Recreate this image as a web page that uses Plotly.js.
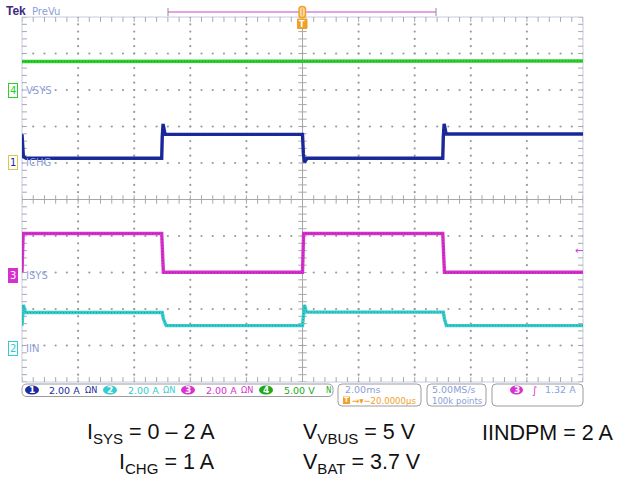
<!DOCTYPE html>
<html><head><meta charset="utf-8">
<script src="https://cdn.plot.ly/plotly-3.0.1.min.js"></script>
<style>html,body{margin:0;padding:0;background:#fff;}#chart{width:618px;height:478px;}</style>
</head><body><div id="chart"></div>
<script>
// ---------- DATA (time in ms, values in channel units) ----------
const timeVSYS = [-10, -5.0, -4.98, 0.0, 0.02, 5.02, 5.04, 10];
const valVSYS  = [4.00, 4.00, 4.04, 4.04, 4.03, 4.03, 4.08, 4.08];

const timeICHG = [-10, -9.98, -9.95, -9.85, -5.02, -5.0, -4.97, -4.9, 0.0, 0.03, 0.07, 0.16, 5.0, 5.02, 5.05, 5.12, 10];
const valICHG  = [1.53, 0.9, 0.3, 0.22, 0.22, 1.4, 2.1, 1.53, 1.53, 0.5, 0.0, 0.22, 0.22, 1.4, 2.1, 1.55, 1.55];

const timeISYS = [-10, -9.98, -9.96, -5.02, -4.99, -4.96, 0.0, 0.02, 0.04, 5.0, 5.03, 5.06, 10];
const valISYS  = [0.15, 1.5, 2.28, 2.28, 0.8, 0.15, 0.15, 1.5, 2.28, 2.28, 0.8, 0.15, 0.15];

const timeIIN = [-10, -9.98, -9.95, -9.88, -5.0, -4.96, -4.92, -4.86, 0.0, 0.04, 0.07, 0.14, 5.02, 5.06, 5.09, 5.13, 10];
const valIIN  = [1.25, 2.0, 2.38, 1.97, 1.97, 1.62, 1.45, 1.25, 1.25, 1.9, 2.38, 1.99, 1.99, 1.62, 1.45, 1.25, 1.25];

const channelNames = ['VSYS', 'ICHG', 'ISYS', 'IIN'];
const channelNumbers = ['4', '1', '3', '2'];
const scaleLabels = ['2.00 A', '2.00 A', '2.00 A', '5.00 V'];   // ch1..ch4
const timebaseLabel = '2.00ms';
const delayLabel = '\u221220.0000µs';
const sampleLabel = '5.00MS/s';
const pointsLabel = '100k points';
const trigLevel = 1.32;       // A, on channel 3
const trigLabel = '1.32 A';
const notes = [
  'I<sub>SYS</sub> = 0 – 2 A', 'I<sub>CHG</sub> = 1 A',
  'V<sub>VBUS</sub> = 5 V', 'V<sub>BAT</sub> = 3.7 V', 'IINDPM = 2 A'
];

// ---------- STYLE / LAYOUT ----------
const L = 22, R = 583, T = 17, B = 382;
const px = x => (x - L) / (R - L);
const py = y => (B - y) / (B - T);

const col = {
  c1: '#1b2a9c', c1d: '#0a1260',
  c2: '#34cccc', c2d: '#1a6464',
  c3: '#d630cf', c3d: '#6a1868',
  c4: '#2ccf2c', c4d: '#1a681a',
  lab: '#8c9ed8', grid: '#a8a8a8', dot: '#9a9a9a', orange: '#f0a028'
};
// axis: [scale per div, ground position in divisions from bottom]
const axCfg = {
  y2: [2, 6.02],   // ch1 ICHG
  y3: [2, 0.92],   // ch2 IIN
  y4: [2, 2.93],   // ch3 ISYS
  y5: [5, 7.98]    // ch4 VSYS
};

const traces = [];
// graticule: dotted grid + rulers
const minorX = [], minorY = [];
for (let i = 0; i <= 50; i++) minorX.push(-10 + i * 0.4);
for (let i = 0; i <= 50; i++) minorY.push(i * 0.2);
const dotX = [], dotY = [];
for (let gx = -8; gx <= 8; gx += 2) { if (gx === 0) continue; minorY.forEach(v => { dotX.push(gx); dotY.push(v); }); }
for (let gy = 1; gy <= 9; gy++) { if (gy === 5) continue; minorX.forEach(v => { dotX.push(v); dotY.push(gy); }); }
traces.push({x: dotX, y: dotY, type: 'scatter', mode: 'markers', marker: {symbol: 'circle', size: 2.2, color: col.dot, line: {width: 0}}, hoverinfo: 'skip'});
const tickStyle = (sym, size) => ({symbol: sym, size: size, color: col.grid, line: {width: 1, color: col.grid}});
traces.push({x: minorX, y: minorX.map(() => 5), mode: 'markers', marker: tickStyle('line-ns-open', 6), hoverinfo: 'skip'});
traces.push({x: minorY.map(() => 0), y: minorY, mode: 'markers', marker: tickStyle('line-ew-open', 6), hoverinfo: 'skip'});
traces.push({x: minorX, y: minorX.map(() => 10), mode: 'markers', marker: tickStyle('line-ns-open', 7), hoverinfo: 'skip'});
traces.push({x: minorX, y: minorX.map(() => 0), mode: 'markers', marker: tickStyle('line-ns-open', 7), hoverinfo: 'skip'});
traces.push({x: minorY.map(() => -10), y: minorY, mode: 'markers', marker: tickStyle('line-ew-open', 7), hoverinfo: 'skip'});
traces.push({x: minorY.map(() => 10), y: minorY, mode: 'markers', marker: tickStyle('line-ew-open', 7), hoverinfo: 'skip'});

function addCh(t, v, yax, c, d) {
  traces.push({x: t, y: v, yaxis: yax, mode: 'lines', line: {color: c, width: 3.4}, hoverinfo: 'skip'});
  traces.push({x: t, y: v, yaxis: yax, mode: 'lines', line: {color: d, width: 1, dash: '1px,2px'}, opacity: 0.55, hoverinfo: 'skip'});
}
addCh(timeVSYS, valVSYS, 'y5', col.c4, col.c4d);
addCh(timeICHG, valICHG, 'y2', col.c1, col.c1d);
addCh(timeISYS, valISYS, 'y4', col.c3, col.c3d);
addCh(timeIIN, valIIN, 'y3', col.c2, col.c2d);

const shapes = [];
const ann = [];
const F = '"DejaVu Sans", sans-serif';
const FC = '"DejaVu Sans Condensed", "DejaVu Sans", sans-serif';
function txt(x, y, text, color, size, anchor, fam, weight) {
  ann.push({xref: 'paper', yref: 'paper', x: px(x), y: py(y), text: text, showarrow: false,
    xanchor: anchor || 'left', yanchor: 'middle', font: {family: fam || F, size: size || 10, color: color, weight: weight || 'normal'}});
}
function rr(x0, y0, x1, y1, r) {
  const X = px, Y = py;
  return `M${X(x0 + r)},${Y(y0)} L${X(x1 - r)},${Y(y0)} Q${X(x1)},${Y(y0)} ${X(x1)},${Y(y0 + r)} L${X(x1)},${Y(y1 - r)} Q${X(x1)},${Y(y1)} ${X(x1 - r)},${Y(y1)} L${X(x0 + r)},${Y(y1)} Q${X(x0)},${Y(y1)} ${X(x0)},${Y(y1 - r)} L${X(x0)},${Y(y0 + r)} Q${X(x0)},${Y(y0)} ${X(x0 + r)},${Y(y0)} Z`;
}
function pline(x0, y0, x1, y1, c, w) {
  shapes.push({type: 'line', xref: 'paper', yref: 'paper', x0: px(x0), y0: py(y0), x1: px(x1), y1: py(y1), line: {color: c, width: w || 1}});
}

// graticule border and center cross
shapes.push({type: 'rect', xref: 'paper', yref: 'paper', x0: 0, y0: 0, x1: 1, y1: 1, line: {color: '#c4cce0', width: 1}, layer: 'below'});
shapes.push({type: 'line', xref: 'x', yref: 'paper', x0: 0, x1: 0, y0: 0, y1: 1, line: {color: col.grid, width: 1}, layer: 'below'});
shapes.push({type: 'line', xref: 'paper', yref: 'y', x0: 0, x1: 1, y0: 5, y1: 5, line: {color: col.grid, width: 1}, layer: 'below'});

// header
txt(4, 11, 'Tek', '#3b2a80', 12, 'left', '"Liberation Sans", Arial, sans-serif', 'bold');
txt(30, 11, 'PreVu', col.lab, 10);
pline(168, 12, 436, 12, '#cc44cc', 1);
pline(168, 8, 168, 16, '#909090', 1);
pline(436, 8, 436, 16, '#909090', 1);
shapes.push({type: 'path', xref: 'paper', yref: 'paper', path: rr(299, 6.5, 305.5, 17.5, 3), line: {color: col.orange, width: 1.5}, fillcolor: '#fbd9a0'});
pline(302.2, 8.5, 302.2, 15.5, col.orange, 1);
shapes.push({type: 'rect', xref: 'paper', yref: 'paper', x0: px(297.5), x1: px(307), y0: py(19), y1: py(28.5), line: {color: col.orange, width: 1}, fillcolor: col.orange});
txt(302.3, 24, 'T', '#ffffff', 8, 'center', F, 'bold');

// channel badges and labels on the left (placed at each channel's ground level)
const badgeDefs = [
  {ax: 'y5', n: channelNumbers[0], name: channelNames[0], fc: col.c4, bc: col.c4, bg: '#ffffff'},
  {ax: 'y2', n: channelNumbers[1], name: channelNames[1], fc: col.c1, bc: '#d8c850', bg: '#ffffff'},
  {ax: 'y4', n: channelNumbers[2], name: channelNames[2], fc: '#ffffff', bc: col.c3, bg: col.c3},
  {ax: 'y3', n: channelNumbers[3], name: channelNames[3], fc: col.c2, bc: col.c2, bg: '#ffffff'}
];
badgeDefs.forEach(b => {
  const gy = axCfg[b.ax][1] / 10;
  ann.push({xref: 'paper', yref: 'paper', x: px(13), y: gy, text: b.n, showarrow: false, xanchor: 'center', yanchor: 'middle',
    font: {family: F, size: 10, color: b.fc}, bgcolor: b.bg, bordercolor: b.bc, borderwidth: 1, borderpad: 1});
  ann.push({xref: 'paper', yref: 'paper', x: px(24), y: gy, text: b.name, showarrow: false, xanchor: 'left', yanchor: 'middle',
    font: {family: F, size: 10, color: col.lab}});
});
// trigger level arrow (channel 3)
ann.push({xref: 'paper', yref: 'y4', x: px(579), y: trigLevel, text: '\u2190', showarrow: false, xanchor: 'center', yanchor: 'middle',
  font: {family: F, size: 10, color: col.c3}});

// status bar
shapes.push({type: 'path', xref: 'paper', yref: 'paper', path: rr(22, 384, 333, 396.5, 5), line: {color: '#9c9c9c', width: 1}});
shapes.push({type: 'path', xref: 'paper', yref: 'paper', path: rr(338, 384, 421, 406, 4), line: {color: '#9c9c9c', width: 1}});
shapes.push({type: 'path', xref: 'paper', yref: 'paper', path: rr(427, 384, 486, 406, 4), line: {color: '#9c9c9c', width: 1}});
shapes.push({type: 'path', xref: 'paper', yref: 'paper', path: rr(492, 384, 583, 406, 4), line: {color: '#9c9c9c', width: 1}});
function badge(x0, x1, fill, n) {
  shapes.push({type: 'circle', xref: 'paper', yref: 'paper', x0: px(x0), x1: px(x1), y0: py(385.5), y1: py(394.5), line: {width: 0}, fillcolor: fill});
  txt((x0 + x1) / 2, 390.3, n, '#ffffff', 9, 'center', F, 'bold');
}
const stat = [
  {b0: 25, b1: 39, c: col.c1, n: '1', s: 47, o: 83, lab: scaleLabels[0]},
  {b0: 103, b1: 117, c: col.c2, n: '2', s: 126, o: 161, lab: scaleLabels[1]},
  {b0: 181, b1: 195, c: col.c3, n: '3', s: 204, o: 239, lab: scaleLabels[2]},
  {b0: 259, b1: 273, c: '#1aa81a', n: '4', s: 282, o: null, lab: scaleLabels[3]}
];
stat.forEach(s => {
  badge(s.b0, s.b1, s.c, s.n);
  txt(s.s, 390.3, s.lab, s.c, 9.5);
  if (s.o) txt(s.o, 390.3, 'ΩN', s.c, 9, 'left', FC);
});
txt(324, 390.3, 'N', '#1aa81a', 8, 'left', FC);
txt(343, 389.5, timebaseLabel, col.lab, 9.5);
shapes.push({type: 'rect', xref: 'paper', yref: 'paper', x0: px(343), x1: px(350), y0: py(396.5), y1: py(404), line: {width: 0}, fillcolor: col.orange});
txt(346.5, 400.4, 'T', '#ffffff', 7, 'center', F, 'bold');
txt(350, 400.4, '→▾' + delayLabel, col.orange, 9.5, 'left', FC);
txt(430, 389.5, sampleLabel, col.lab, 9.5);
txt(430, 400.4, pointsLabel, col.lab, 9.5, 'left', FC);
shapes.push({type: 'circle', xref: 'paper', yref: 'paper', x0: px(510), x1: px(523), y0: py(385.5), y1: py(394.5), line: {width: 0}, fillcolor: col.c3});
txt(516.5, 390.3, '3', '#ffffff', 9, 'center', F, 'bold');
txt(534, 390.3, '∫', col.c3, 10, 'center');
txt(578, 389.5, trigLabel, col.lab, 9.5, 'right');

// bottom notes
const NF = {family: '"Liberation Sans", Arial, sans-serif', size: 21.5, color: '#111111'};
ann.push({xref: 'paper', yref: 'paper', x: px(217), y: py(433), text: notes[0], showarrow: false, xanchor: 'right', yanchor: 'middle', font: NF});
ann.push({xref: 'paper', yref: 'paper', x: px(217), y: py(463), text: notes[1], showarrow: false, xanchor: 'right', yanchor: 'middle', font: NF});
ann.push({xref: 'paper', yref: 'paper', x: px(301), y: py(433), text: notes[2], showarrow: false, xanchor: 'left', yanchor: 'middle', font: NF});
ann.push({xref: 'paper', yref: 'paper', x: px(301), y: py(463), text: notes[3], showarrow: false, xanchor: 'left', yanchor: 'middle', font: NF});
ann.push({xref: 'paper', yref: 'paper', x: px(615), y: py(433), text: notes[4], showarrow: false, xanchor: 'right', yanchor: 'middle', font: NF});

const chAxis = k => ({overlaying: 'y', range: [-axCfg[k][1] * axCfg[k][0], (10 - axCfg[k][1]) * axCfg[k][0]], visible: false, fixedrange: true});

const layout = {
  width: 618, height: 478,
  margin: {l: L, r: 618 - R, t: T, b: 478 - B},
  paper_bgcolor: '#ffffff', plot_bgcolor: '#ffffff',
  showlegend: false,
  xaxis: {range: [-10, 10], showticklabels: false, ticks: '', zeroline: false, showline: false, showgrid: false, fixedrange: true},
  yaxis: {range: [0, 10], showticklabels: false, ticks: '', zeroline: false, showline: false, showgrid: false, fixedrange: true},
  yaxis2: chAxis('y2'), yaxis3: chAxis('y3'), yaxis4: chAxis('y4'), yaxis5: chAxis('y5'),
  shapes: shapes, annotations: ann
};
Plotly.newPlot('chart', traces, layout, {staticPlot: true, displayModeBar: false});
</script>
</body></html>
